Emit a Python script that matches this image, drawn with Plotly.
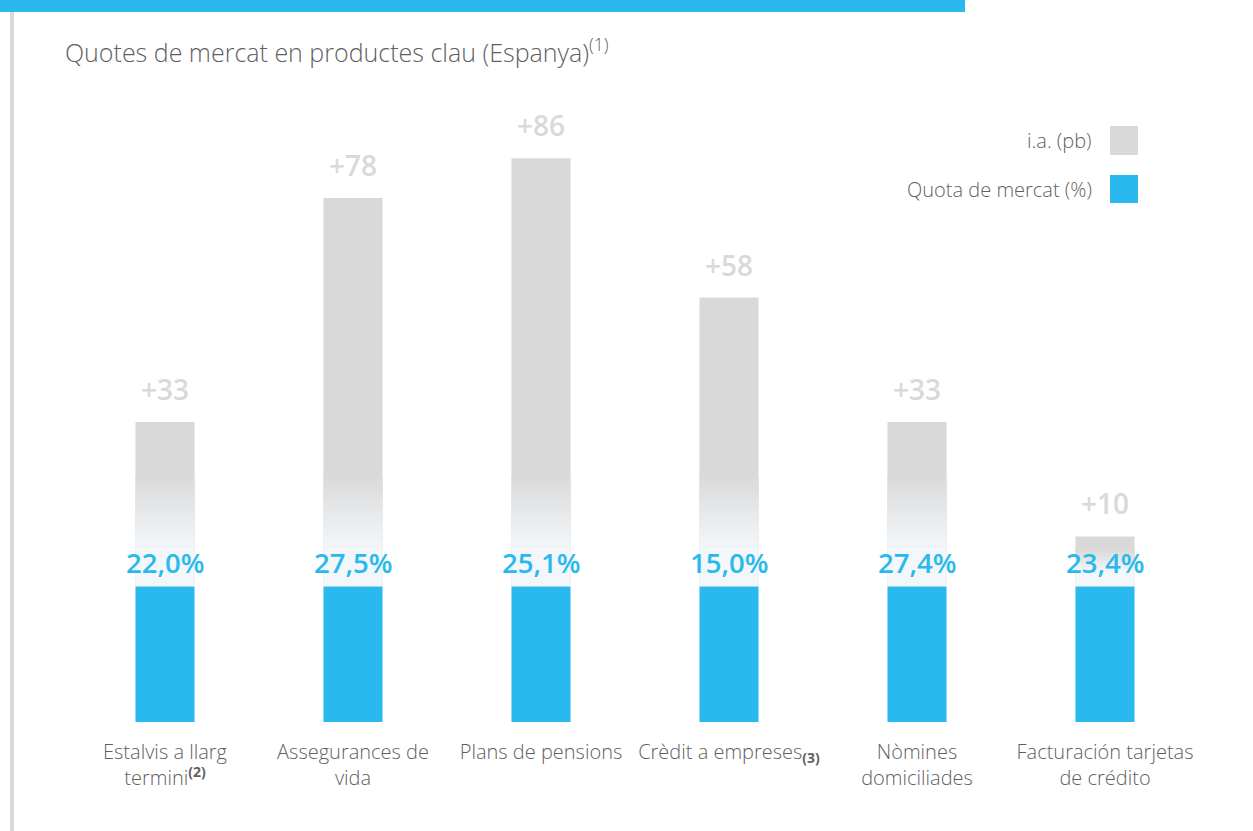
import plotly.graph_objects as go

# ---- data ----
categories = [
    "Estalvis a llarg<br>termini<sup><b>(2)</b></sup>",
    "Assegurances de<br>vida",
    "Plans de pensions",
    "Crèdit a empreses<sub><b>(3)</b></sub>",
    "Nòmines<br>domiciliades",
    "Facturación tarjetas<br>de crédito",
]
market_share = [22.0, 27.5, 25.1, 15.0, 27.4, 23.4]   # Quota de mercat (%)
ia_pb = [33, 78, 86, 58, 33, 10]                     # i.a. (pb)

# ---- style ----
BLUE = "#29b9ee"
GREY = (217, 217, 217)
LIGHT = (243, 247, 250)
TXT = "#5f5f5f"
FONT = "Open Sans"
BLUE_BLOCK = 27.3          # visual height of the share block (axis units)
N_SEG = 24

def lerp(c1, c2, t):
    return "rgb(%d,%d,%d)" % tuple(round(a + (b - a) * t) for a, b in zip(c1, c2))

fig = go.Figure()

# blue share blocks
fig.add_trace(go.Bar(x=categories, y=[BLUE_BLOCK] * len(categories), marker_color=BLUE,
                     marker_line_width=0, name="Quota de mercat (%)", hoverinfo="skip"))
# grey i.a. bars
fig.add_trace(go.Bar(x=categories, y=ia_pb, base=[BLUE_BLOCK] * len(categories),
                     marker=dict(color=lerp(GREY, GREY, 0), line_width=0),
                     name="i.a. (pb)", hoverinfo="skip"))

# fade towards the bottom of the grey bars
hi = [min(22.0, v * 0.75) for v in ia_pb]
lo = [min(8.0, v * 0.3) for v in ia_pb]
fig.add_trace(go.Bar(x=categories, y=lo, base=[BLUE_BLOCK] * len(categories),
                     marker=dict(color=lerp(LIGHT, LIGHT, 0), line_width=0),
                     showlegend=False, hoverinfo="skip"))
for k in range(N_SEG):
    t = k / N_SEG
    bases = [BLUE_BLOCK + l + (h - l) * t for l, h in zip(lo, hi)]
    heights = [(h - l) / N_SEG * 1.15 for l, h in zip(lo, hi)]
    fig.add_trace(go.Bar(x=categories, y=heights, base=bases,
                         marker=dict(color=lerp(LIGHT, GREY, (k + 0.5) / N_SEG), line_width=0),
                         showlegend=False, hoverinfo="skip"))

annotations = []
for c, v in zip(categories, ia_pb):
    annotations.append(dict(x=c, y=BLUE_BLOCK + v, xref="x", yref="y", text="+%d" % v,
                            showarrow=False, yanchor="bottom", yshift=12,
                            font=dict(family=FONT, size=28, color="#d9d9d9", weight=600)))
for c, s in zip(categories, market_share):
    annotations.append(dict(x=c, y=BLUE_BLOCK, xref="x", yref="y",
                            text=("%.1f%%" % s).replace(".", ","),
                            showarrow=False, yanchor="bottom", yshift=3,
                            font=dict(family=FONT, size=27.5, color=BLUE, weight=600)))

# pixel -> paper helpers (plot area: x 71..1199, y 100..722)
def px(xp):
    return (xp - 71) / 1128
def py(yp):
    return (722 - yp) / 622

# custom legend (text left of swatch)
annotations.append(dict(x=px(1094), y=py(140), xref="paper", yref="paper", text="i.a. (pb)",
                        showarrow=False, xanchor="right", yanchor="middle",
                        font=dict(family=FONT, size=20, color=TXT, weight=300)))
annotations.append(dict(x=px(1094), y=py(189), xref="paper", yref="paper", text="Quota de mercat (%)",
                        showarrow=False, xanchor="right", yanchor="middle",
                        font=dict(family=FONT, size=20, color=TXT, weight=300)))

shapes = [
    dict(type="rect", xref="paper", yref="paper", x0=px(1110), x1=px(1138), y0=py(155), y1=py(126),
         fillcolor="#d9d9d9", line_width=0),
    dict(type="rect", xref="paper", yref="paper", x0=px(1110), x1=px(1138), y0=py(203), y1=py(175),
         fillcolor=BLUE, line_width=0),
    # top banner
    dict(type="rect", xref="paper", yref="paper", x0=px(0), x1=px(965), y0=py(12), y1=py(0),
         fillcolor=BLUE, line_width=0),
    # left rule
    dict(type="rect", xref="paper", yref="paper", x0=px(10), x1=px(14), y0=py(835), y1=py(12),
         fillcolor="#d9d9d9", line_width=0),
]

fig.update_layout(
    width=1253, height=831,
    margin=dict(l=71, r=54, t=100, b=109),
    paper_bgcolor="white", plot_bgcolor="white",
    barmode="overlay", bargap=0.686,
    showlegend=False,
    title=dict(text="Quotes de mercat en productes clau (Espanya)<sup>(1)</sup>",
               x=65 / 1253, xanchor="left", y=1 - 53 / 831, yanchor="middle",
               font=dict(family=FONT, size=25, color=TXT, weight=300)),
    annotations=annotations,
    shapes=shapes,
    font=dict(family=FONT, color=TXT),
)
fig.update_xaxes(showgrid=False, showline=False, zeroline=False, ticks="",
                 tickfont=dict(family=FONT, size=20, color=TXT, weight=300),
                 ticklabelstandoff=16, range=[-0.5, 5.5])
fig.update_yaxes(visible=False, range=[0, 125], fixedrange=True)

fig.write_html("out.html", config={"displayModeBar": False},
               post_script="document.body.style.margin='0';document.body.style.overflow='hidden';")
